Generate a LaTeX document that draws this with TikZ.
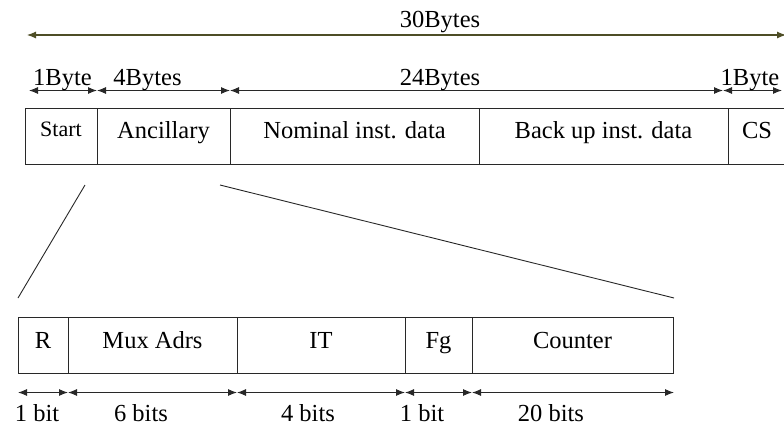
\documentclass[tikz,border=0pt]{standalone}
\usepackage{fontspec}
\setmainfont{Liberation Serif}
\usetikzlibrary{arrows.meta}
\definecolor{olivedim}{RGB}{78,78,38}
\definecolor{rulegray}{RGB}{40,40,40}

\begin{document}
\begin{tikzpicture}[x=1bp,y=-1bp,
  txt/.style={font=\fontsize{24.5bp}{28bp}\selectfont, inner sep=0pt},
  field/.style={draw=rulegray, line width=0.9bp, inner sep=0pt, minimum height=56bp,
    font=\fontsize{24.5bp}{28bp}\selectfont, text height=10bp, text depth=6bp},
  bitfield/.style={field, minimum height=55.5bp, text height=10.8bp, text depth=5bp},
  lbl/.style={txt, anchor=base},
  dimline/.style={draw=rulegray, line width=1bp, {Latex[length=9bp,width=7bp]}-{Latex[length=9bp,width=7bp]}},
  zoomline/.style={draw=rulegray, line width=0.9bp}
]
\clip (0,0) rectangle (784,425);
\fill[white] (0,0) rectangle (784,425);

% ---- frame of 30 bytes ----
\node[field, minimum width=72bp, font=\fontsize{22bp}{25bp}\selectfont, text height=8bp, text depth=8bp] (start) at (61,136) {Start};
\node[field, minimum width=133bp] (anc)  at (163.5,136) {Ancillary};
\node[field, minimum width=249bp] (nom)  at (354.5,136) {Nominal inst. data};
\node[field, minimum width=249bp] (bak)  at (603.5,136) {Back up inst. data};
\node[field, minimum width=58bp]  (cs)   at (757,136) {CS};

% total length
\coordinate (t0) at (27,35);
\coordinate (t1) at (786,35);
\draw[line width=1.1bp, draw=olivedim, {Latex[length=9bp,width=7bp]}-{Latex[length=9bp,width=7bp]}] (t0) -- (t1);
\node[lbl] (l30) at (440,27) {30Bytes};

% byte widths
\coordinate (b0) at (29,90.5);
\coordinate (b1) at (97,90.5);
\coordinate (b2) at (230,90.5);
\coordinate (b3) at (723,90.5);
\coordinate (b4) at (782,90.5);
\draw[dimline] (b0) -- (b1);
\draw[dimline] (b1) -- (b2);
\draw[dimline] (b2) -- (b3);
\draw[dimline] (b3) -- (b4);
\node[lbl] (l1a) at (62.5,85) {1Byte};
\node[lbl] (l4)  at (147.5,85) {4Bytes};
\node[lbl] (l24) at (440,85) {24Bytes};
\node[lbl] (l1b) at (750,85) {1Byte};

% ---- expanded ancillary field ----
\node[bitfield, minimum width=50bp]  (r)   at (43,345.5) {R};
\node[bitfield, minimum width=169bp] (mux) at (152.5,345.5) {Mux Adrs};
\node[bitfield, minimum width=168bp] (it)  at (321,345.5) {IT};
\node[bitfield, minimum width=67bp]  (fg)  at (438.5,345.5) {Fg};
\node[bitfield, minimum width=201bp] (cnt) at (572.5,345.5) {Counter};

% zoom lines
\coordinate (z0a) at (85,185);
\coordinate (z0b) at (18,298);
\coordinate (z1a) at (220,185);
\coordinate (z1b) at (674,298);
\draw[zoomline] (z0a) -- (z0b);
\draw[zoomline] (z1a) -- (z1b);

% bit widths
\coordinate (c0) at (18,392.5);
\coordinate (c1) at (68,392.5);
\coordinate (c2) at (237,392.5);
\coordinate (c3) at (405,392.5);
\coordinate (c4) at (472,392.5);
\coordinate (c5) at (674,392.5);
\draw[dimline] (c0) -- (c1);
\draw[dimline] (c1) -- (c2);
\draw[dimline] (c2) -- (c3);
\draw[dimline] (c3) -- (c4);
\draw[dimline] (c4) -- (c5);
\node[lbl] (w1) at (37,421.5) {1 bit};
\node[lbl] (w2) at (141,421.5) {6 bits};
\node[lbl] (w3) at (308,421.5) {4 bits};
\node[lbl] (w4) at (422,421.5) {1 bit};
\node[lbl] (w5) at (551,421.5) {20 bits};
\end{tikzpicture}
\end{document}
